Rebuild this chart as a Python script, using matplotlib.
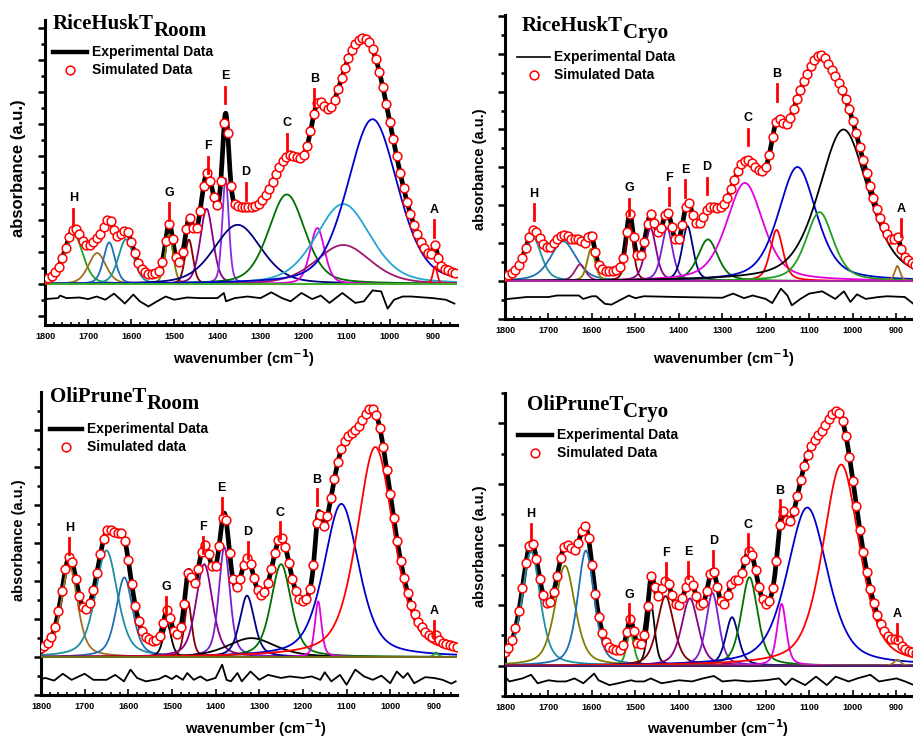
import numpy as np
import matplotlib.pyplot as plt
from matplotlib.lines import Line2D
from matplotlib.ticker import MultipleLocator

W, H = 913, 737

# ---- band fits (pseudo-Voigt): centre (cm-1), height (a.u.), FWHM (cm-1) ----
rh_room_center = [1733, 1679, 1651, 1612, 1512, 1466, 1425, 1381, 1353, 1239, 1168, 1108, 1108, 1040, 895]
rh_room_height = [1.55, 0.97, 1.30, 1.40, 1.55, 1.39, 2.35, 3.30, 1.85, 2.80, 1.75, 2.50, 1.22, 5.15, 0.55]
rh_room_fwhm = [50, 48, 32, 42, 22, 22, 35, 18, 130, 100, 40, 150, 150, 138, 12]

rh_cryo_center = [1735, 1666, 1627, 1602, 1513, 1465, 1427, 1380, 1333, 1248, 1175, 1127, 1076, 1021, 897]
rh_cryo_height = [1.14, 1.05, 0.44, 0.85, 1.51, 1.40, 1.40, 1.45, 1.10, 2.59, 1.35, 3.01, 1.82, 4.00, 0.40]
rh_cryo_fwhm = [45, 70, 30, 22, 20, 30, 30, 30, 55, 100, 35, 104, 75, 135, 15]

op_room_center = [1735, 1650, 1609, 1511, 1463, 1426, 1380, 1328, 1318, 1250, 1165, 1112, 1034, 895]
op_room_height = [2.40, 2.81, 2.10, 0.88, 1.45, 2.45, 2.90, 1.62, 0.50, 2.45, 1.47, 4.04, 5.54, 0.12]
op_room_fwhm = [45, 60, 45, 22, 20, 45, 30, 40, 130, 55, 18, 95, 100, 12]

op_cryo_center = [1740, 1662, 1614, 1512, 1464, 1431, 1375, 1323, 1278, 1238, 1164, 1105, 1027, 898]
op_cryo_height = [1.88, 1.65, 1.90, 0.55, 1.00, 1.15, 1.11, 1.20, 0.80, 1.46, 1.02, 2.61, 3.32, 0.10]
op_cryo_fwhm = [50, 55, 45, 20, 20, 45, 45, 35, 35, 45, 25, 110, 100, 18]

# ---- fit residuals (experimental - simulated), offset below the baseline ----
rh_room_res_wn = [1800, 1770, 1765, 1750, 1720, 1700, 1680, 1660, 1640, 1620, 1615, 1595, 1580, 1560, 1540,
                  1520, 1500, 1470, 1440, 1400, 1385, 1380, 1360, 1330, 1300, 1275, 1250, 1230, 1205, 1180,
                  1160, 1140, 1110, 1080, 1060, 1040, 1020, 1005, 990, 970, 950, 900, 870, 850]
rh_room_res = [-0.47, -0.44, -0.36, -0.44, -0.42, -0.47, -0.39, -0.49, -0.30, -0.54, -0.61, -0.33, -0.54,
               -0.70, -0.54, -0.39, -0.49, -0.42, -0.44, -0.44, -0.28, -0.54, -0.44, -0.39, -0.44, -0.26,
               -0.44, -0.54, -0.28, -0.47, -0.36, -0.59, -0.28, -0.59, -0.54, -0.20, -0.23, -0.77, -0.49,
               -0.39, -0.39, -0.44, -0.49, -0.61]

rh_cryo_res_wn = [1800, 1750, 1700, 1680, 1630, 1620, 1600, 1590, 1570, 1555, 1530, 1515, 1500, 1480, 1400,
                  1300, 1275, 1250, 1230, 1200, 1185, 1165, 1150, 1140, 1120, 1100, 1070, 1040, 1020, 1005,
                  990, 970, 940, 920, 880, 860]
rh_cryo_res = [-0.48, -0.42, -0.42, -0.38, -0.38, -0.47, -0.40, -0.40, -0.60, -0.62, -0.47, -0.38, -0.45,
               -0.40, -0.42, -0.44, -0.33, -0.45, -0.38, -0.47, -0.58, -0.20, -0.38, -0.64, -0.47, -0.33,
               -0.27, -0.47, -0.27, -0.55, -0.35, -0.47, -0.42, -0.40, -0.42, -0.60]

op_room_res_wn = [1800, 1790, 1770, 1750, 1730, 1700, 1680, 1650, 1630, 1610, 1595, 1580, 1560, 1530, 1515,
                  1500, 1490, 1475, 1465, 1450, 1435, 1420, 1400, 1385, 1375, 1365, 1350, 1340, 1320, 1300,
                  1280, 1250, 1230, 1200, 1180, 1160, 1150, 1135, 1115, 1100, 1080, 1060, 1040, 1020, 1000,
                  985, 970, 960, 945, 920, 900, 880, 860, 850]
op_room_res = [-0.58, -0.55, -0.62, -0.44, -0.60, -0.44, -0.60, -0.60, -0.47, -0.64, -0.33, -0.55, -0.64,
               -0.58, -0.49, -0.58, -0.49, -0.60, -0.42, -0.60, -0.51, -0.62, -0.55, -0.20, -0.60, -0.64,
               -0.42, -0.64, -0.38, -0.60, -0.47, -0.55, -0.51, -0.55, -0.51, -0.60, -0.40, -0.64, -0.47,
               -0.73, -0.33, -0.51, -0.60, -0.49, -0.69, -0.38, -0.55, -0.42, -0.69, -0.53, -0.55, -0.60,
               -0.70, -0.64]

op_cryo_res_wn = [1800, 1790, 1760, 1740, 1725, 1700, 1680, 1660, 1640, 1620, 1595, 1585, 1560, 1540, 1510,
                  1500, 1480, 1465, 1440, 1400, 1370, 1345, 1320, 1300, 1270, 1240, 1200, 1170, 1155, 1140,
                  1110, 1085, 1060, 1040, 1010, 990, 960, 940, 900, 880, 860]
op_cryo_res = [-0.18, -0.26, -0.21, -0.15, -0.29, -0.24, -0.26, -0.26, -0.21, -0.29, -0.13, -0.24, -0.32,
               -0.29, -0.24, -0.26, -0.26, -0.21, -0.29, -0.24, -0.26, -0.21, -0.17, -0.26, -0.24, -0.26,
               -0.24, -0.21, -0.32, -0.21, -0.32, -0.18, -0.32, -0.18, -0.26, -0.21, -0.15, -0.26, -0.21,
               -0.26, -0.32]

# ---- band assignments ----
band_letters = ['H', 'G', 'F', 'E', 'D', 'C', 'B', 'A']
rh_room_band_wn = [1734, 1512, 1421, 1382, 1334, 1239, 1175, 897]
rh_cryo_band_wn = [1733, 1515, 1423, 1386, 1336, 1240, 1175, 889]
op_room_band_wn = [1735, 1514, 1430, 1386, 1326, 1252, 1168, 900]
op_cryo_band_wn = [1740, 1514, 1431, 1379, 1321, 1242, 1168, 898]

# ---- styling / layout ----
rh_room_colors = ['#22a022', '#a0701e', '#1f6fb4', '#1f8fa0', '#808000', '#800000', '#8b008b', '#8a2be2',
                  '#000080', '#007000', '#e000e0', '#20a8d0', '#a0186e', '#0000cc', '#ff0000']
rh_cryo_colors = ['#1f8fa0', '#1f6fb4', '#a0186e', '#808000', '#800000', '#8b008b', '#7a1fd0', '#000080',
                  '#007000', '#e000e0', '#ff0000', '#0000cc', '#20a020', '#000000', '#a0701e']
op_room_colors = ['#a0701e', '#1f8fa0', '#1f6fb4', '#000000', '#800000', '#8b008b', '#7a1fd0', '#000080',
                  '#000000', '#007000', '#e000e0', '#0000cc', '#ff0000', '#20a020']
op_cryo_colors = ['#1f8fa0', '#808000', '#1f6fb4', '#20a020', '#000000', '#800000', '#8b008b', '#7a1fd0',
                  '#000080', '#007000', '#e000e0', '#0000cc', '#ff0000', '#a0701e']

panels = [
    dict(center=rh_room_center, height=rh_room_height, fwhm=rh_room_fwhm, colors=rh_room_colors, eta=0.35,
         zero_color='#30c030', res_wn=rh_room_res_wn, res=rh_room_res, band_wn=rh_room_band_wn,
         bar_lo=[1.83, 2.0, 3.46, 5.65, 2.64, 4.18, 5.57, 1.47], bar_len=0.52, txt_gap=0.33,
         box=(45, 20, 457, 325), xlim=(1800, 844), ylim=(-1.28, 8.25),
         title=('RiceHuskT', 'Room', 53, 29), sim_label='Simulated Data', leg=(53, 87, 52, 70, 92),
         leg_lw=3.2, ylab=(18, 168, 12), xlab=(244, 358)),
    dict(center=rh_cryo_center, height=rh_cryo_height, fwhm=rh_cryo_fwhm, colors=rh_cryo_colors, eta=0.5,
         zero_color='#b020b0', res_wn=rh_cryo_res_wn, res=rh_cryo_res, band_wn=rh_cryo_band_wn,
         bar_lo=[1.6, 1.74, 2.02, 2.23, 2.29, 3.59, 4.76, 1.20], bar_len=0.43, txt_gap=0.28,
         box=(505, 15, 913, 319), xlim=(1800, 861), ylim=(-1.0, 7.02),
         title=('RiceHuskT', 'Cryo', 522, 31), sim_label='Simulated Data', leg=(517, 550, 57, 75, 554),
         leg_lw=1.2, ylab=(480, 169, 10.5), xlab=(724, 358)),
    dict(center=op_room_center, height=op_room_height, fwhm=op_room_fwhm, colors=op_room_colors, eta=0.5,
         zero_color='#7a6a10', res_wn=op_room_res_wn, res=op_room_res, band_wn=op_room_band_wn,
         bar_lo=[2.73, 1.16, 2.75, 3.77, 2.61, 3.13, 4.0, 0.54], bar_len=0.42, txt_gap=0.26,
         box=(41, 392, 457, 695), xlim=(1800, 847), ylim=(-1.0, 6.99),
         title=('OliPruneT', 'Room', 50, 402), sim_label='Simulated data', leg=(50, 82, 429, 447, 87),
         leg_lw=3.2, ylab=(19, 540, 10.5), xlab=(256, 728)),
    dict(center=op_cryo_center, height=op_cryo_height, fwhm=op_cryo_fwhm, colors=op_cryo_colors, eta=0.5,
         zero_color='#4a1a70', res_wn=op_cryo_res_wn, res=op_cryo_res, band_wn=op_cryo_band_wn,
         bar_lo=[2.07, 0.74, 1.43, 1.44, 1.63, 1.90, 2.46, 0.42], bar_len=0.27, txt_gap=0.16,
         box=(505, 393, 913, 696), xlim=(1800, 862), ylim=(-0.5, 4.5),
         title=('OliPruneT', 'Cryo', 527, 410), sim_label='Simulated Data', leg=(518, 552, 435, 453, 557),
         leg_lw=3.2, ylab=(480, 546, 10.5), xlab=(718, 728)),
]

SANS = 'Liberation Sans'
SERIF = 'Liberation Serif'


def pvoigt(x, c, h, w, eta):
    # eta is the Lorentzian fraction of the band
    u = (x - c) / w
    g = np.exp(-4 * np.log(2) * u ** 2)
    lo = 1 / (1 + 4 * u ** 2)
    return h * ((1 - eta) * g + eta * lo)


def fx(x):
    return x / W


def fy(y):
    return 1 - y / H


fig = plt.figure(figsize=(W / 100, H / 100), dpi=100)

for p in panels:
    l, t, r, b = p['box']
    ax = fig.add_axes([fx(l), fy(b), (r - l) / W, (b - t) / H])
    ax.set_xlim(*p['xlim'])
    ax.set_ylim(*p['ylim'])

    wn = np.linspace(1800, 840, 1200)
    total = np.zeros_like(wn)
    for c, h, w, col in zip(p['center'], p['height'], p['fwhm'], p['colors']):
        band = pvoigt(wn, c, h, w, p['eta'])
        total += band
        ax.plot(wn, band, color=col, lw=1.3, zorder=3)
    ax.axhline(0, color=p['zero_color'], lw=1.3, zorder=3.1)

    ax.plot(wn, total, color='black', lw=3.4, zorder=2, solid_capstyle='round')

    wn_pts = np.arange(1800, 840, -8.0)
    sim = np.zeros_like(wn_pts)
    for c, h, w in zip(p['center'], p['height'], p['fwhm']):
        sim += pvoigt(wn_pts, c, h, w, p['eta'])
    ax.plot(wn_pts, sim, 'o', ms=6.3, mfc='white', mec='red', mew=1.1, zorder=4)

    ax.plot(p['res_wn'], p['res'], color='black', lw=1.3, zorder=3)

    # band assignment markers
    for letter, bw, lo in zip(band_letters, p['band_wn'], p['bar_lo']):
        ax.plot([bw, bw], [lo, lo + p['bar_len']], color='red', lw=2.0, zorder=5)
        ax.text(bw, lo + p['bar_len'] + p['txt_gap'], letter, ha='center', va='center',
                fontsize=9, fontweight='bold', family=SANS, zorder=5)

    for side in ('top', 'right'):
        ax.spines[side].set_visible(False)
    for side in ('left', 'bottom'):
        ax.spines[side].set_linewidth(2.2)
    ax.xaxis.set_major_locator(MultipleLocator(100))
    ax.xaxis.set_minor_locator(MultipleLocator(20))
    ax.yaxis.set_major_locator(MultipleLocator(1))
    ax.yaxis.set_minor_locator(MultipleLocator(0.5))
    ax.tick_params(axis='y', which='both', direction='out', labelleft=False, width=1.8)
    ax.tick_params(axis='y', which='major', length=5)
    ax.tick_params(axis='y', which='minor', length=3)
    ax.tick_params(axis='x', which='both', direction='in', width=1.2, pad=5, labelsize=6.5)
    ax.tick_params(axis='x', which='major', length=4)
    ax.tick_params(axis='x', which='minor', length=2.5)
    for lab in ax.get_xticklabels():
        lab.set_fontweight('bold')
        lab.set_family(SANS)
    ax.patch.set_alpha(0)

    # sample name with subscript condition
    main, sub, tx, ty = p['title']
    tt = fig.text(fx(tx), fy(ty), main, fontsize=15, fontweight='bold', family=SERIF, va='baseline')
    ax.annotate(sub, xy=(1, 0), xycoords=tt, xytext=(0, -7), textcoords='offset pixels',
                va='bottom', ha='left', fontsize=15, fontweight='bold', family=SERIF)

    # legend
    x0, x1, y_exp, y_sim, x_txt = p['leg']
    fig.add_artist(Line2D([fx(x0), fx(x1)], [fy(y_exp), fy(y_exp)], color='black', lw=p['leg_lw'],
                          transform=fig.transFigure))
    fig.add_artist(Line2D([fx((x0 + x1) / 2)], [fy(y_sim)], marker='o', ms=6.3, mfc='white', mec='red',
                          mew=1.1, transform=fig.transFigure))
    fig.text(fx(x_txt), fy(y_exp), 'Experimental Data', fontsize=10, fontweight='bold', family=SANS,
             va='center')
    fig.text(fx(x_txt), fy(y_sim), p['sim_label'], fontsize=10, fontweight='bold', family=SANS,
             va='center')

    # axis titles
    yx, yy, ys = p['ylab']
    fig.text(fx(yx), fy(yy), 'absorbance (a.u.)', rotation=90, ha='center', va='center',
             fontsize=ys, fontweight='bold', family=SANS)
    xx, xy_ = p['xlab']
    fig.text(fx(xx), fy(xy_), 'wavenumber (cm$^{\\mathbf{-1}}$)', ha='center', va='center',
             fontsize=10.5, fontweight='bold', family=SANS)

plt.rcParams['mathtext.default'] = 'bf'
fig.savefig('out.png', dpi=100)
